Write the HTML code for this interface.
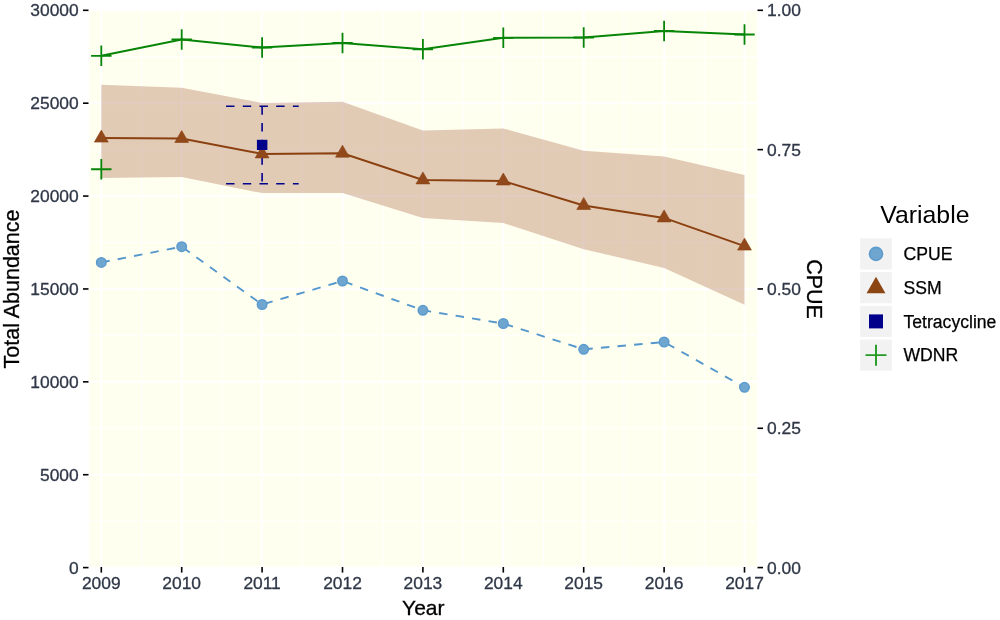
<!DOCTYPE html>
<html lang="en"><head><meta charset="utf-8"><title>Total Abundance and CPUE by Year</title>
<style>html,body{margin:0;padding:0;background:#fff}svg{display:block}text{font-family:"Liberation Sans",Arial,sans-serif}.tk{font-size:17.4px;fill:#2f3747;stroke:#2f3747;stroke-width:.3px}.ax{font-size:21px;fill:#000;stroke:#000;stroke-width:.3px}.lg{font-size:17.6px;fill:#000;stroke:#000;stroke-width:.25px}</style></head><body>
<svg width="1000" height="620" viewBox="0 0 1000 620">
<rect width="1000" height="620" fill="#fff"/>
<rect x="89.3" y="11.0" width="667.9" height="555.6" fill="#fffff0"/>
<defs><clipPath id="pc"><rect x="89.3" y="11.0" width="667.9" height="555.6"/></clipPath></defs>
<g clip-path="url(#pc)" stroke="#fff" fill="none"><line x1="141.50" x2="141.50" y1="11.0" y2="566.6" stroke-width="1"/><line x1="221.90" x2="221.90" y1="11.0" y2="566.6" stroke-width="1"/><line x1="302.30" x2="302.30" y1="11.0" y2="566.6" stroke-width="1"/><line x1="382.70" x2="382.70" y1="11.0" y2="566.6" stroke-width="1"/><line x1="463.10" x2="463.10" y1="11.0" y2="566.6" stroke-width="1"/><line x1="543.50" x2="543.50" y1="11.0" y2="566.6" stroke-width="1"/><line x1="623.90" x2="623.90" y1="11.0" y2="566.6" stroke-width="1"/><line x1="704.30" x2="704.30" y1="11.0" y2="566.6" stroke-width="1"/><line x1="89.3" x2="757.2" y1="521.16" y2="521.16" stroke-width="1"/><line x1="89.3" x2="757.2" y1="428.28" y2="428.28" stroke-width="1"/><line x1="89.3" x2="757.2" y1="335.39" y2="335.39" stroke-width="1"/><line x1="89.3" x2="757.2" y1="242.51" y2="242.51" stroke-width="1"/><line x1="89.3" x2="757.2" y1="149.63" y2="149.63" stroke-width="1"/><line x1="89.3" x2="757.2" y1="56.74" y2="56.74" stroke-width="1"/><line x1="101.30" x2="101.30" y1="11.0" y2="566.6" stroke-width="2"/><line x1="181.70" x2="181.70" y1="11.0" y2="566.6" stroke-width="2"/><line x1="262.10" x2="262.10" y1="11.0" y2="566.6" stroke-width="2"/><line x1="342.50" x2="342.50" y1="11.0" y2="566.6" stroke-width="2"/><line x1="422.90" x2="422.90" y1="11.0" y2="566.6" stroke-width="2"/><line x1="503.30" x2="503.30" y1="11.0" y2="566.6" stroke-width="2"/><line x1="583.70" x2="583.70" y1="11.0" y2="566.6" stroke-width="2"/><line x1="664.10" x2="664.10" y1="11.0" y2="566.6" stroke-width="2"/><line x1="744.50" x2="744.50" y1="11.0" y2="566.6" stroke-width="2"/><line x1="89.3" x2="757.2" y1="567.60" y2="567.60" stroke-width="2"/><line x1="89.3" x2="757.2" y1="474.72" y2="474.72" stroke-width="2"/><line x1="89.3" x2="757.2" y1="381.83" y2="381.83" stroke-width="2"/><line x1="89.3" x2="757.2" y1="288.95" y2="288.95" stroke-width="2"/><line x1="89.3" x2="757.2" y1="196.07" y2="196.07" stroke-width="2"/><line x1="89.3" x2="757.2" y1="103.18" y2="103.18" stroke-width="2"/><line x1="89.3" x2="757.2" y1="10.30" y2="10.30" stroke-width="2"/></g>
<polygon points="101.30,84.75 181.70,87.75 262.10,103.00 342.50,101.75 422.90,130.50 503.30,128.50 583.70,150.75 664.10,156.60 744.50,175.00 744.50,304.80 664.10,267.90 583.70,249.20 503.30,223.00 422.90,218.10 342.50,193.00 262.10,193.10 181.70,177.10 101.30,178.00" fill="#a0522d" fill-opacity="0.3"/>
<polyline points="101.30,262.40 181.70,246.70 262.10,304.50 342.50,281.00 422.90,310.30 503.30,323.50 583.70,349.30 664.10,342.00 744.50,387.30" fill="none" stroke="#5597cc" stroke-width="1.9" stroke-dasharray="8.5 8.17"/>
<circle cx="101.30" cy="262.40" r="4.75" fill="#6fa6cf" stroke="#5c9bce" stroke-width="1.5"/>
<circle cx="181.70" cy="246.70" r="4.75" fill="#6fa6cf" stroke="#5c9bce" stroke-width="1.5"/>
<circle cx="262.10" cy="304.50" r="4.75" fill="#6fa6cf" stroke="#5c9bce" stroke-width="1.5"/>
<circle cx="342.50" cy="281.00" r="4.75" fill="#6fa6cf" stroke="#5c9bce" stroke-width="1.5"/>
<circle cx="422.90" cy="310.30" r="4.75" fill="#6fa6cf" stroke="#5c9bce" stroke-width="1.5"/>
<circle cx="503.30" cy="323.50" r="4.75" fill="#6fa6cf" stroke="#5c9bce" stroke-width="1.5"/>
<circle cx="583.70" cy="349.30" r="4.75" fill="#6fa6cf" stroke="#5c9bce" stroke-width="1.5"/>
<circle cx="664.10" cy="342.00" r="4.75" fill="#6fa6cf" stroke="#5c9bce" stroke-width="1.5"/>
<circle cx="744.50" cy="387.30" r="4.75" fill="#6fa6cf" stroke="#5c9bce" stroke-width="1.5"/>
<polyline points="101.30,138.10 181.70,138.50 262.10,153.90 342.50,153.20 422.90,179.90 503.30,181.00 583.70,205.50 664.10,217.90 744.50,246.10" fill="none" stroke="#8b4010" stroke-width="2"/>
<g stroke="#00008B" stroke-width="1.6" fill="none" stroke-dasharray="8.4 8.3"><line x1="226.1" x2="298.7" y1="106.3" y2="106.3"/><line x1="226.1" x2="298.7" y1="183.7" y2="183.7"/><line x1="262.1" x2="262.1" y1="106.3" y2="183.7"/></g>
<polygon points="101.30,130.10 108.23,142.10 94.37,142.10" fill="#91491b" stroke="#8b4210" stroke-width="0.6"/>
<polygon points="181.70,130.50 188.63,142.50 174.77,142.50" fill="#91491b" stroke="#8b4210" stroke-width="0.6"/>
<polygon points="262.10,145.90 269.03,157.90 255.17,157.90" fill="#91491b" stroke="#8b4210" stroke-width="0.6"/>
<polygon points="342.50,145.20 349.43,157.20 335.57,157.20" fill="#91491b" stroke="#8b4210" stroke-width="0.6"/>
<polygon points="422.90,171.90 429.83,183.90 415.97,183.90" fill="#91491b" stroke="#8b4210" stroke-width="0.6"/>
<polygon points="503.30,173.00 510.23,185.00 496.37,185.00" fill="#91491b" stroke="#8b4210" stroke-width="0.6"/>
<polygon points="583.70,197.50 590.63,209.50 576.77,209.50" fill="#91491b" stroke="#8b4210" stroke-width="0.6"/>
<polygon points="664.10,209.90 671.03,221.90 657.17,221.90" fill="#91491b" stroke="#8b4210" stroke-width="0.6"/>
<polygon points="744.50,238.10 751.43,250.10 737.57,250.10" fill="#91491b" stroke="#8b4210" stroke-width="0.6"/>
<rect x="256.9" y="139.8" width="10.5" height="10.2" fill="#00008B"/>
<polyline points="101.30,55.80 181.70,39.50 262.10,47.50 342.50,43.00 422.90,49.30 503.30,37.80 583.70,37.50 664.10,31.00 744.50,34.50" fill="none" stroke="#078507" stroke-width="2"/>
<path d="M91.10 55.80H111.50M101.30 45.60V66.00" stroke="#078507" stroke-width="1.8" fill="none"/>
<path d="M171.50 39.50H191.90M181.70 29.30V49.70" stroke="#078507" stroke-width="1.8" fill="none"/>
<path d="M251.90 47.50H272.30M262.10 37.30V57.70" stroke="#078507" stroke-width="1.8" fill="none"/>
<path d="M332.30 43.00H352.70M342.50 32.80V53.20" stroke="#078507" stroke-width="1.8" fill="none"/>
<path d="M412.70 49.30H433.10M422.90 39.10V59.50" stroke="#078507" stroke-width="1.8" fill="none"/>
<path d="M493.10 37.80H513.50M503.30 27.60V48.00" stroke="#078507" stroke-width="1.8" fill="none"/>
<path d="M573.50 37.50H593.90M583.70 27.30V47.70" stroke="#078507" stroke-width="1.8" fill="none"/>
<path d="M653.90 31.00H674.30M664.10 20.80V41.20" stroke="#078507" stroke-width="1.8" fill="none"/>
<path d="M734.30 34.50H754.70M744.50 24.30V44.70" stroke="#078507" stroke-width="1.8" fill="none"/>
<path d="M91.10 169.25H111.50M101.30 159.05V179.45" stroke="#078507" stroke-width="1.8" fill="none"/>
<g stroke="#000" stroke-width="1.6"><line x1="83" x2="88.5" y1="567.60" y2="567.60"/><line x1="83" x2="88.5" y1="474.72" y2="474.72"/><line x1="83" x2="88.5" y1="381.83" y2="381.83"/><line x1="83" x2="88.5" y1="288.95" y2="288.95"/><line x1="83" x2="88.5" y1="196.07" y2="196.07"/><line x1="83" x2="88.5" y1="103.18" y2="103.18"/><line x1="83" x2="88.5" y1="10.30" y2="10.30"/><line x1="757.5" x2="763" y1="567.60" y2="567.60"/><line x1="757.5" x2="763" y1="428.28" y2="428.28"/><line x1="757.5" x2="763" y1="288.95" y2="288.95"/><line x1="757.5" x2="763" y1="149.63" y2="149.63"/><line x1="757.5" x2="763" y1="10.30" y2="10.30"/><line x1="101.30" x2="101.30" y1="567" y2="572.6"/><line x1="181.70" x2="181.70" y1="567" y2="572.6"/><line x1="262.10" x2="262.10" y1="567" y2="572.6"/><line x1="342.50" x2="342.50" y1="567" y2="572.6"/><line x1="422.90" x2="422.90" y1="567" y2="572.6"/><line x1="503.30" x2="503.30" y1="567" y2="572.6"/><line x1="583.70" x2="583.70" y1="567" y2="572.6"/><line x1="664.10" x2="664.10" y1="567" y2="572.6"/><line x1="744.50" x2="744.50" y1="567" y2="572.6"/></g>
<text class="tk" x="78.7" y="573.60" text-anchor="end">0</text>
<text class="tk" x="78.7" y="480.72" text-anchor="end">5000</text>
<text class="tk" x="78.7" y="387.83" text-anchor="end">10000</text>
<text class="tk" x="78.7" y="294.95" text-anchor="end">15000</text>
<text class="tk" x="78.7" y="202.07" text-anchor="end">20000</text>
<text class="tk" x="78.7" y="109.18" text-anchor="end">25000</text>
<text class="tk" x="78.7" y="16.30" text-anchor="end">30000</text>
<text class="tk" x="767.1" y="573.60">0.00</text>
<text class="tk" x="767.1" y="434.28">0.25</text>
<text class="tk" x="767.1" y="294.95">0.50</text>
<text class="tk" x="767.1" y="155.63">0.75</text>
<text class="tk" x="767.1" y="16.30">1.00</text>
<text class="tk" x="101.30" y="589.4" text-anchor="middle">2009</text>
<text class="tk" x="181.70" y="589.4" text-anchor="middle">2010</text>
<text class="tk" x="262.10" y="589.4" text-anchor="middle">2011</text>
<text class="tk" x="342.50" y="589.4" text-anchor="middle">2012</text>
<text class="tk" x="422.90" y="589.4" text-anchor="middle">2013</text>
<text class="tk" x="503.30" y="589.4" text-anchor="middle">2014</text>
<text class="tk" x="583.70" y="589.4" text-anchor="middle">2015</text>
<text class="tk" x="664.10" y="589.4" text-anchor="middle">2016</text>
<text class="tk" x="744.50" y="589.4" text-anchor="middle">2017</text>
<text class="ax" x="423.3" y="614.9" text-anchor="middle">Year</text>
<text class="ax" transform="translate(19.1 289) rotate(-90)" text-anchor="middle" style="font-size:21.5px">Total Abundance</text>
<text class="ax" transform="translate(806.6 289) rotate(90)" text-anchor="middle" style="font-size:21.5px">CPUE</text>
<text x="880.3" y="223.3" style="font-size:24.8px" fill="#000">Variable</text>
<rect x="860.2" y="238.30" width="31.6" height="31.2" fill="#f2f2f2"/>
<rect x="860.2" y="272.05" width="31.6" height="31.2" fill="#f2f2f2"/>
<rect x="860.2" y="305.80" width="31.6" height="31.2" fill="#f2f2f2"/>
<rect x="860.2" y="339.55" width="31.6" height="31.2" fill="#f2f2f2"/>
<circle cx="876.0" cy="253.90" r="6.5" fill="#6fa6cf" stroke="#5c9bce" stroke-width="1.6"/>
<polygon points="876.00,276.85 885.44,293.20 866.56,293.20" fill="#8B4513"/>
<rect x="869.00" y="314.40" width="14" height="14" fill="#00008B"/>
<path d="M865.50 355.15H886.50M876.00 344.65V365.65" stroke="#229a22" stroke-width="1.9" fill="none"/>
<text class="lg" x="903.5" y="260.10">CPUE</text>
<text class="lg" x="903.5" y="293.85">SSM</text>
<text class="lg" x="903.5" y="327.60">Tetracycline</text>
<text class="lg" x="903.5" y="361.35">WDNR</text>
</svg></body></html>
